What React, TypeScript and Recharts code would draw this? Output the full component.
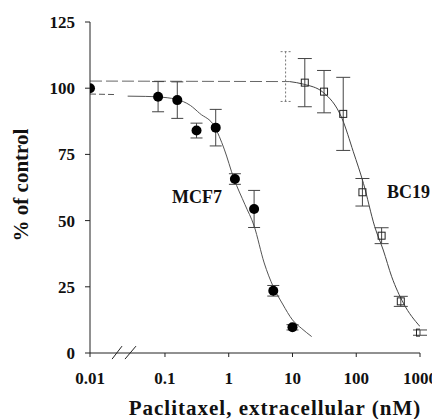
import { ComposedChart, Line, Scatter, ErrorBar, XAxis, YAxis, ReferenceLine } from "recharts"

// broken x axis: the 0 nM control is drawn at the axis start, labelled "0.01"
const AXIS_START = 0.00667

const X_TICKS = [AXIS_START, 0.1, 1, 10, 100, 1000]
const X_TICK_LABELS = ["0.01", "0.1", "1", "10", "100", "1000"]
const Y_TICKS = [0, 25, 50, 75, 100, 125]

const MCF7_CONC = [AXIS_START, 0.078, 0.156, 0.3125, 0.625, 1.25, 2.5, 5, 10]
const MCF7_PCT = [100, 96.8, 95.5, 84, 85.1, 65.7, 54.4, 23.5, 9.7]
const MCF7_ERR = [0, 5.7, 6.9, 2.8, 6.9, 2, 7, 2, 1]

const BC19_CONC = [15.6, 31.25, 62.5, 125, 250, 500, 1000]
const BC19_PCT = [102.1, 98.7, 90.3, 60.7, 44.3, 19.5, 7.7]
const BC19_ERR = [9.1, 8, 13.8, 5.2, 3, 1.9, 1]

// error bar with no visible marker at 7.8 nM
const BC19_HIDDEN_CONC = [7.8]
const BC19_HIDDEN_PCT = [104.4]
const BC19_HIDDEN_ERR = [9.4]

// fitted curves
const MCF7_LEAD_X = [AXIS_START, 0.0164]
const MCF7_LEAD_Y = [97.8, 97.6]
const MCF7_FIT_X = [0.026, 0.05, 0.078, 0.15, 0.25, 0.35, 0.6, 0.85, 1.2, 1.8, 2.5, 3.6, 5, 7, 10, 14, 20]
const MCF7_FIT_Y = [97, 96.9, 96.7, 95.8, 93.5, 90.5, 85.5, 77, 66, 56, 48, 34, 25, 18.5, 12.5, 9.2, 6.2]

const BC19_TOP_X = [AXIS_START, 9]
const BC19_TOP_Y = [102.7, 102.5]
const BC19_FIT_X = [9, 15, 30, 60, 90, 130, 195, 265, 360, 550, 1000]
const BC19_FIT_Y = [102.5, 101.5, 98.5, 88.5, 76, 64, 47.7, 38.9, 28.8, 18.8, 10]

// axis break marks "//"
const BREAK_1 = [{ x: 0.0148, y: -2.3 }, { x: 0.0212, y: 2.6 }]
const BREAK_2 = [{ x: 0.0236, y: -2.3 }, { x: 0.0351, y: 2.6 }]

const FONT = '"Liberation Serif", "Times New Roman", serif'

function zip(xs: number[], ys: number[], errs?: number[]) {
    return xs.map((x, i) => ({ x, y: ys[i], err: errs ? errs[i] : 0 }))
}

const mcf7 = zip(MCF7_CONC, MCF7_PCT, MCF7_ERR)
const bc19 = zip(BC19_CONC, BC19_PCT, BC19_ERR)
const bc19Hidden = zip(BC19_HIDDEN_CONC, BC19_HIDDEN_PCT, BC19_HIDDEN_ERR)
const mcf7Lead = zip(MCF7_LEAD_X, MCF7_LEAD_Y)
const mcf7Fit = zip(MCF7_FIT_X, MCF7_FIT_Y)
const bc19Top = zip(BC19_TOP_X, BC19_TOP_Y)
const bc19Fit = zip(BC19_FIT_X, BC19_FIT_Y)

const Dot = (p: any) => <circle cx={p.cx} cy={p.cy} r={5} fill="#000" />
const Square = (p: any) => (
    <rect x={p.cx - 3.5} y={p.cy - 3.5} width={7} height={7} fill="none" stroke="#222" strokeWidth={1} />
)
const Nothing = () => <g />

const XTick = (p: any) => (
    <text x={p.x} y={p.y} dy={12} textAnchor="middle" fontFamily={FONT} fontWeight={700} fontSize={17} fill="#111">
        {X_TICK_LABELS[p.index]}
    </text>
)
const YTick = (p: any) => (
    <text x={p.x} y={p.y} dy={6} textAnchor="end" fontFamily={FONT} fontWeight={700} fontSize={17} fill="#111">
        {p.payload.value}
    </text>
)

export default function App() {
    return (
        <ComposedChart width={432} height={411} margin={{ top: 14, right: 20, left: 0, bottom: 0 }}>
            <XAxis
                type="number"
                dataKey="x"
                scale="log"
                domain={[AXIS_START, 1000]}
                allowDataOverflow
                ticks={X_TICKS}
                height={66}
                tickSize={4}
                tickMargin={15}
                stroke="#222"
                tick={XTick}
                interval={0}
            />
            <YAxis
                type="number"
                dataKey="y"
                domain={[0, 125]}
                ticks={Y_TICKS}
                width={82}
                tickSize={5}
                tickMargin={10}
                stroke="#222"
                tick={YTick}
                interval={0}
            />
            <ReferenceLine segment={BREAK_1} stroke="#222" ifOverflow="visible" />
            <ReferenceLine segment={BREAK_2} stroke="#222" ifOverflow="visible" />

            <Line data={mcf7Lead} dataKey="y" stroke="#555" strokeWidth={1} strokeDasharray="6 3" dot={false} isAnimationActive={false} />
            <Line data={mcf7Fit} dataKey="y" type="monotone" stroke="#555" strokeWidth={1} dot={false} isAnimationActive={false} />
            <Line data={bc19Top} dataKey="y" stroke="#666" strokeWidth={1} strokeDasharray="12 4" dot={false} isAnimationActive={false} />
            <Line data={bc19Fit} dataKey="y" type="monotone" stroke="#444" strokeWidth={1} dot={false} isAnimationActive={false} />

            <Scatter data={mcf7} dataKey="y" shape={Dot} isAnimationActive={false}>
                <ErrorBar dataKey="err" direction="y" width={6} stroke="#444" strokeWidth={1} />
            </Scatter>
            <Scatter data={bc19} dataKey="y" shape={Square} isAnimationActive={false}>
                <ErrorBar dataKey="err" direction="y" width={7} stroke="#444" strokeWidth={1} />
            </Scatter>
            <Scatter data={bc19Hidden} dataKey="y" shape={Nothing} isAnimationActive={false}>
                <ErrorBar dataKey="err" direction="y" width={5} stroke="#777" strokeWidth={1} strokeDasharray="2 2" />
            </Scatter>

            <text x={164} y={195} fontFamily={FONT} fontWeight={700} fontSize={18} fill="#111">MCF7</text>
            <text x={379} y={190} fontFamily={FONT} fontWeight={700} fontSize={18} fill="#111">BC19</text>
            <text x={20} y={177} transform="rotate(-90, 20, 177)" textAnchor="middle" fontFamily={FONT} fontWeight={700} fontSize={21} fill="#111">% of control</text>
            <text x={267} y={407} textAnchor="middle" fontFamily={FONT} fontWeight={700} fontSize={21} letterSpacing={1} fill="#111">Paclitaxel, extracellular (nM)</text>
        </ComposedChart>
    )
}
